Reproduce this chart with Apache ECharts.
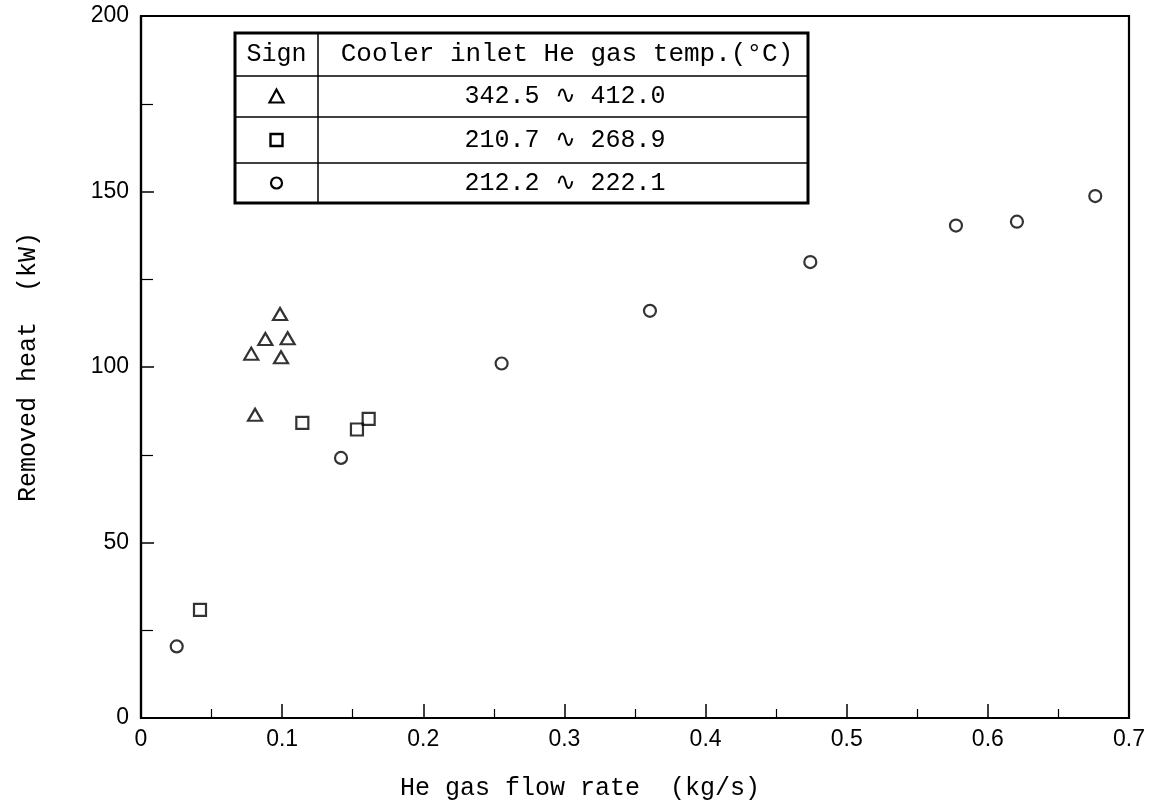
<!DOCTYPE html>
<html>
<head>
<meta charset="utf-8">
<script src="https://cdn.jsdelivr.net/npm/echarts@6/dist/echarts.min.js"></script>
<style>
html,body{margin:0;padding:0;background:#fff;}
#chart{width:1156px;height:806px;}
</style>
</head>
<body>
<div id="chart"></div>
<script>
// Data
const triangleX = [0.0985, 0.0881, 0.1039, 0.0781, 0.0992, 0.0808];
const triangleY = [115.1, 108.0, 108.2, 103.8, 102.8, 86.4];
const squareX = [0.0418, 0.1143, 0.1530, 0.1613];
const squareY = [30.8, 84.1, 82.2, 85.2];
const circleX = [0.0253, 0.1417, 0.2555, 0.3606, 0.4742, 0.5774, 0.6206, 0.6761];
const circleY = [20.4, 74.1, 101.0, 116.0, 129.9, 140.3, 141.4, 148.7];

const tableHeader = ['Sign', 'Cooler inlet He gas temp.(°C)'];
const tableRanges = ['342.5 ∿ 412.0', '210.7 ∿ 268.9', '212.2 ∿ 222.1'];

const xTicks = [0, 0.1, 0.2, 0.3, 0.4, 0.5, 0.6, 0.7];
const yTicks = [0, 50, 100, 150, 200];

function pairs(xs, ys) { return xs.map((x, i) => [x, ys[i]]); }

const mono = '"Liberation Mono", "DejaVu Sans Mono", monospace';
const sans = '"Liberation Sans Narrow", "Liberation Sans", "DejaVu Sans", sans-serif';

const markStyle = { color: 'rgba(0,0,0,0)', borderColor: '#000', borderWidth: 2.2 };

// Table geometry (pixels)
const tL = 235, tR = 808, tT = 33, tB = 203, tC = 318;
const rowLines = [76, 117, 163];
const rowCenters = [(tT + rowLines[0]) / 2, (rowLines[0] + rowLines[1]) / 2, (rowLines[1] + rowLines[2]) / 2, (rowLines[2] + tB) / 2];

const graphics = [
  { type: 'rect', shape: { x: tL, y: tT, width: tR - tL, height: tB - tT }, style: { fill: '#fff', stroke: '#000', lineWidth: 3 }, z: 10 },
  { type: 'line', shape: { x1: tC, y1: tT, x2: tC, y2: tB }, style: { stroke: '#000', lineWidth: 1.5 }, z: 11 }
];
rowLines.forEach(y => graphics.push({ type: 'line', shape: { x1: tL, y1: y, x2: tR, y2: y }, style: { stroke: '#000', lineWidth: 1.5 }, z: 11 }));
graphics.push({ type: 'text', x: (tL + tC) / 2, y: rowCenters[0], style: { text: tableHeader[0], font: '25px ' + mono, fill: '#000', textAlign: 'center', textVerticalAlign: 'middle' }, z: 12 });
graphics.push({ type: 'text', x: (tC + tR) / 2 + 4, y: rowCenters[0], style: { text: tableHeader[1], font: '26px ' + mono, fill: '#000', textAlign: 'center', textVerticalAlign: 'middle' }, z: 12 });
tableRanges.forEach((t, i) => graphics.push({ type: 'text', x: (tC + tR) / 2 + 2, y: rowCenters[i + 1], style: { text: t, font: '25px ' + mono, fill: '#000', textAlign: 'center', textVerticalAlign: 'middle' }, z: 12 }));
const sx = (tL + tC) / 2;
graphics.push({ type: 'polygon', shape: { points: [[sx, rowCenters[1] - 7], [sx - 7, rowCenters[1] + 6], [sx + 7, rowCenters[1] + 6]] }, style: { fill: 'none', stroke: '#000', lineWidth: 2.2 }, z: 12 });
graphics.push({ type: 'rect', shape: { x: sx - 6, y: rowCenters[2] - 6, width: 12, height: 12 }, style: { fill: 'none', stroke: '#000', lineWidth: 2.4 }, z: 12 });
graphics.push({ type: 'circle', shape: { cx: sx, cy: rowCenters[3], r: 5.5 }, style: { fill: 'none', stroke: '#000', lineWidth: 2.2 }, z: 12 });

const chart = echarts.init(document.getElementById('chart'), null, { renderer: 'canvas' });
chart.setOption({
  backgroundColor: '#fff',
  animation: false,
  grid: { left: 141, right: 27, top: 16, bottom: 85, show: true, borderColor: '#000', borderWidth: 2.2, backgroundColor: 'rgba(0,0,0,0)' },
  xAxis: {
    type: 'value', min: 0, max: 0.7, interval: 0.1,
    name: 'He gas flow rate  (kg/s)', nameLocation: 'middle', nameGap: 58,
    nameTextStyle: { fontFamily: mono, fontSize: 25, color: '#000', padding: [0, 110, 0, 0] },
    axisLine: { onZero: false, lineStyle: { color: '#000', width: 2.2 } },
    axisTick: { inside: true, length: 14, lineStyle: { color: '#000', width: 1.5 } },
    minorTick: { show: true, splitNumber: 2, length: 9, lineStyle: { color: '#000', width: 1.2 } },
    axisLabel: { fontFamily: sans, fontSize: 23, color: '#000', margin: 10, formatter: v => (xTicks.includes(+v.toFixed(2)) ? String(+v.toFixed(1)) : '') },
    splitLine: { show: false }
  },
  yAxis: {
    type: 'value', min: 0, max: 200, interval: 50,
    name: 'Removed heat  (kW)', nameLocation: 'middle', nameGap: 100, nameRotate: 90,
    nameTextStyle: { fontFamily: mono, fontSize: 25, color: '#000' },
    axisLine: { onZero: false, lineStyle: { color: '#000', width: 2.2 } },
    axisTick: { inside: true, length: 13, lineStyle: { color: '#000', width: 1.5 } },
    minorTick: { show: true, splitNumber: 2, length: 12, lineStyle: { color: '#000', width: 1.2 } },
    axisLabel: { fontFamily: sans, fontSize: 23, color: '#000', margin: 12, formatter: v => (yTicks.includes(v) ? String(v) : '') },
    splitLine: { show: false }
  },
  series: [
    { name: 'triangle', type: 'scatter', symbol: 'triangle', symbolSize: [14, 12], data: pairs(triangleX, triangleY), itemStyle: markStyle },
    { name: 'square', type: 'scatter', symbol: 'rect', symbolSize: 12, data: pairs(squareX, squareY), itemStyle: markStyle },
    { name: 'circle', type: 'scatter', symbol: 'circle', symbolSize: 12, data: pairs(circleX, circleY), itemStyle: markStyle }
  ],
  graphic: graphics
});
</script>
</body>
</html>
